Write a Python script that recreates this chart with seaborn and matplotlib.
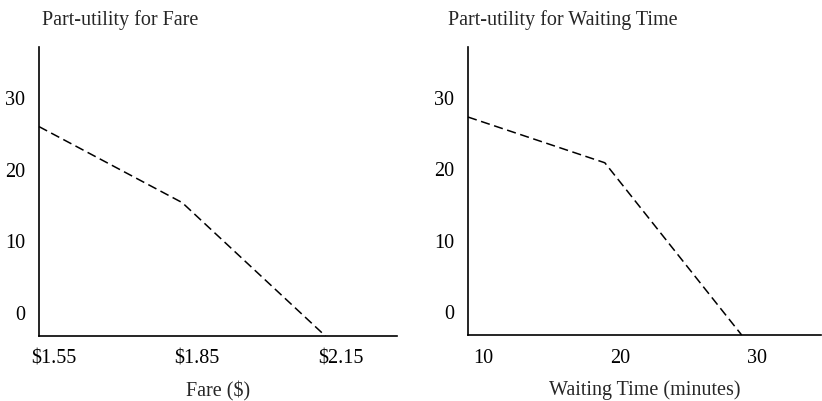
import matplotlib
matplotlib.use("Agg")
import matplotlib.pyplot as plt
import matplotlib.transforms as mtrans
import seaborn as sns
import pandas as pd

fare = [1.55, 1.85, 2.15]
fare_utility = [26.0, 15.4, -3.2]
fare_labels = ["$1.55", "$1.85", "$2.15"]

wait = [10, 20, 30]
wait_utility = [27.3, 20.9, -3.2]
wait_labels = ["10", "20", "30"]

y_ticks = [0, 10, 20, 30]

FS = 14.5

sns.set_style("white")
plt.rcParams["font.family"] = ["Liberation Serif", "DejaVu Serif"]
plt.rcParams["font.size"] = FS

fig = plt.figure(figsize=(8.22, 4.01), dpi=100)
ax1 = fig.add_axes([39/822, 1-336/401, (397-39)/822, (336-47)/401])
ax2 = fig.add_axes([468/822, 1-335/401, (821-468)/822, (335-47)/401])

df1 = pd.DataFrame({"x": fare, "y": fare_utility})
df2 = pd.DataFrame({"x": wait, "y": wait_utility})

for ax, df, ticks, labels, xlim, xlabel in [
    (ax1, df1, fare, fare_labels, (1.55, 2.30), "Fare ($)"),
    (ax2, df2, wait, wait_labels, (10, 35.8), "Waiting Time (minutes)"),
]:
    sns.lineplot(data=df, x="x", y="y", ax=ax, color="black", linewidth=1.1,
                 linestyle=(0, (6, 3)), clip_on=False)
    ax.set_xlim(*xlim)
    ax.set_ylim(-3.2, 37.1)
    ax.set_xticks(ticks)
    ax.set_xticklabels(labels)
    ax.set_yticks(y_ticks)
    ax.set_yticklabels([str(t) for t in y_ticks])
    ax.tick_params(axis="both", length=0, labelsize=FS, colors="black")
    ax.tick_params(axis="x", pad=10)
    ax.tick_params(axis="y", pad=10)
    for lbl in ax.get_xticklabels():
        lbl.set_transform(lbl.get_transform() + mtrans.ScaledTranslation(15/100, 0, fig.dpi_scale_trans))
    for s in ["top", "right"]:
        ax.spines[s].set_visible(False)
    for s in ["left", "bottom"]:
        ax.spines[s].set_color("black")
        ax.spines[s].set_linewidth(1.2)
    ax.set_xlabel(xlabel, fontsize=FS, labelpad=9)
    ax.set_ylabel("")

fig.text(42/822, 1-20/401, "Part-utility for Fare", fontsize=FS, va="center", ha="left")
fig.text(448/822, 1-20/401, "Part-utility for Waiting Time", fontsize=FS, va="center", ha="left")

fig.savefig("out.png", dpi=100, facecolor="white")
